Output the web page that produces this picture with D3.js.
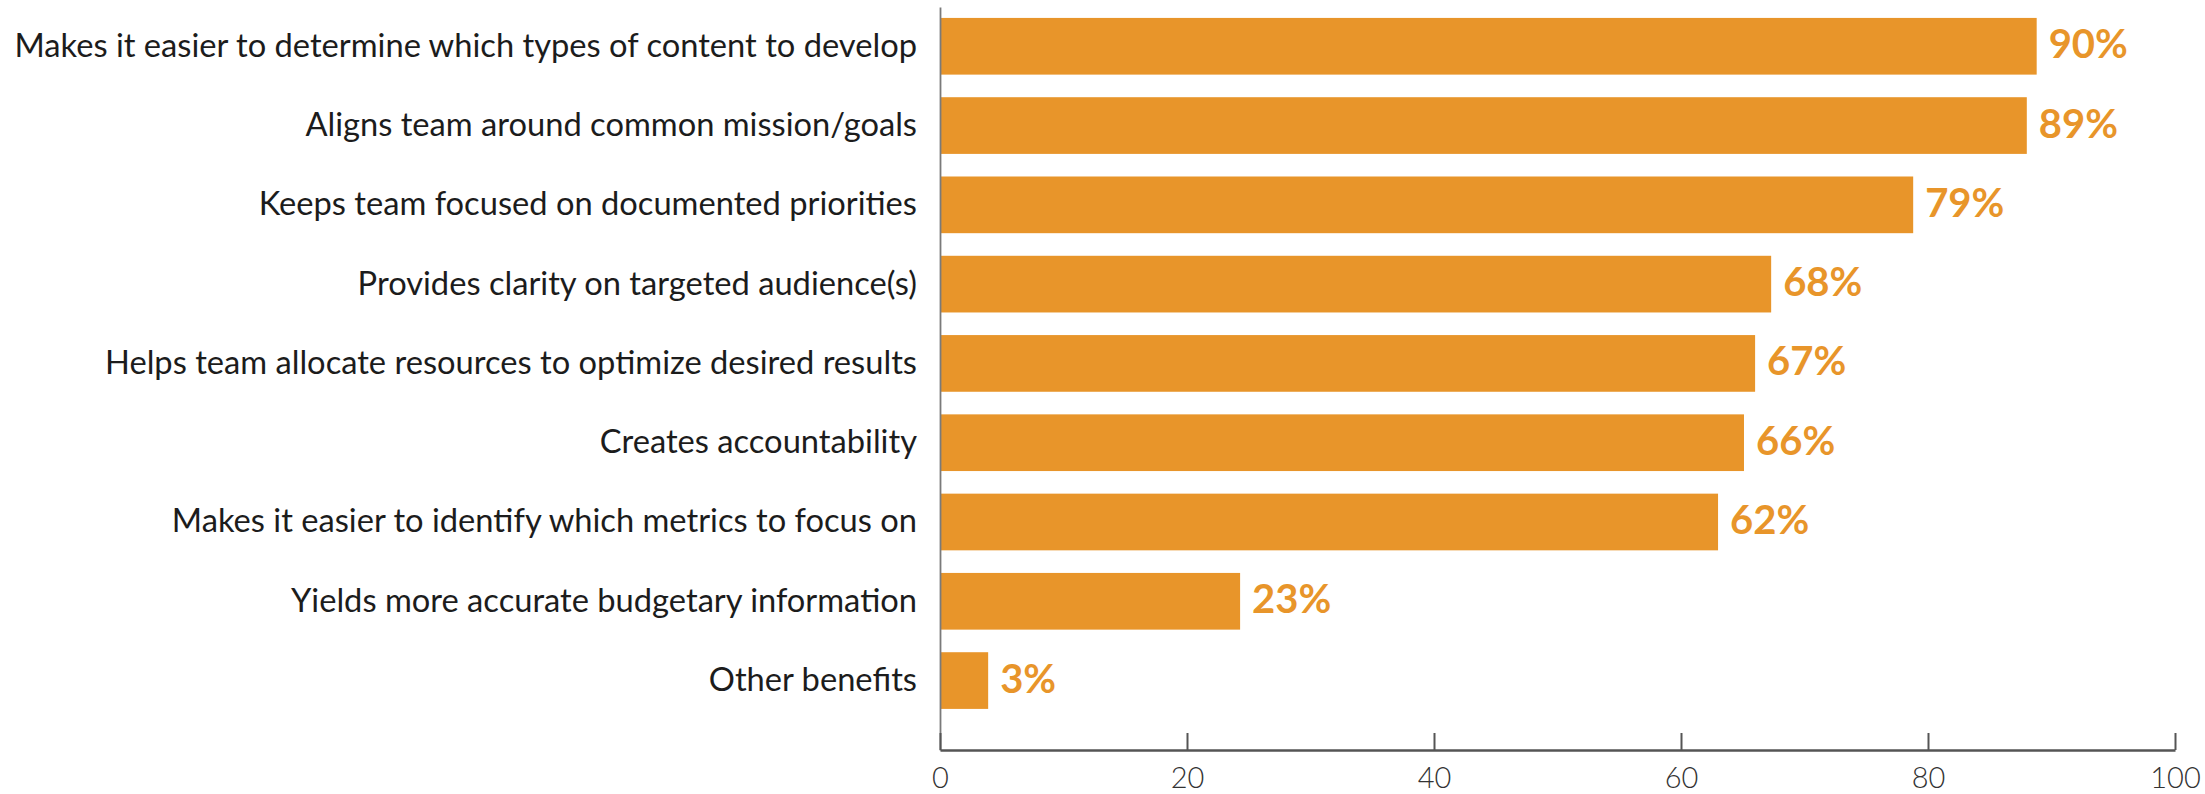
<!DOCTYPE html>
<html>
<head>
<meta charset="utf-8">
<script src="https://cdn.jsdelivr.net/npm/d3@7"></script>
<style>
  body { margin: 0; background: #fff; }
  svg { display: block; }
</style>
</head>
<body>
<div id="chart"></div>
<script>
// benefits of a documented strategy
var categories = [
    "Makes it easier to determine which types of content to develop",
    "Aligns team around common mission/goals",
    "Keeps team focused on documented priorities",
    "Provides clarity on targeted audience(s)",
    "Helps team allocate resources to optimize desired results",
    "Creates accountability",
    "Makes it easier to identify which metrics to focus on",
    "Yields more accurate budgetary information",
    "Other benefits"
];
var values = [88.8, 88.0, 78.8, 67.3, 66.0, 65.1, 63.0, 24.3, 3.9];
var valueLabels = ["90%", "89%", "79%", "68%", "67%", "66%", "62%", "23%", "3%"];
var xTicks = [0, 20, 40, 60, 80, 100];

var width = 2205, height = 794;
var orange = "#e8952a";

var svg = d3.select("#chart")
    .append("svg")
    .attr("width", width)
    .attr("height", height);

// X axis
var x = d3.scaleLinear()
    .domain([0, 100])
    .range([940, 2175]);

// Y axis (bands)
var y = d3.scaleBand()
    .domain(categories)
    .range([7, 750])
    .paddingInner(0.285)
    .paddingOuter(0.328)
    .align(0.21);

// bars
svg.selectAll("rect.bar")
    .data(values)
    .enter().append("rect")
    .attr("class", "bar")
    .attr("x", x(0))
    .attr("y", function(d, i) { return y(categories[i]); })
    .attr("width", function(d) { return x(d) - x(0); })
    .attr("height", y.bandwidth())
    .attr("fill", orange);

// value labels
svg.selectAll("text.val")
    .data(values)
    .enter().append("text")
    .attr("class", "val")
    .attr("x", function(d) { return x(d) + 12; })
    .attr("y", function(d, i) { return y(categories[i]) + y.bandwidth() / 2; })
    .attr("dy", "0.3em")
    .attr("font-family", "Lato, 'Open Sans', sans-serif")
    .attr("font-weight", 700)
    .attr("font-size", 40)
    .attr("fill", orange)
    .text(function(d, i) { return valueLabels[i]; });

// left axis with category labels
var yAxis = svg.append("g")
    .attr("transform", "translate(" + x(0) + ",0)")
    .call(d3.axisLeft(y).tickSize(0).tickPadding(23).tickSizeOuter(0));

yAxis.select(".domain").attr("stroke", "#7a7a7a").attr("stroke-width", 1.8);
yAxis.selectAll("text")
    .attr("font-family", "Lato, 'Open Sans', sans-serif")
    .attr("font-size", 36)
    .attr("fill", "#1c1c1c");

// shrink/grow the label font so the longest label fits where it sits in the picture
var longest = d3.max(yAxis.selectAll("text").nodes(), function(n) { return n.getComputedTextLength(); });
yAxis.selectAll("text").attr("font-size", 36 * 903 / longest);

// bottom axis
var xAxis = svg.append("g")
    .attr("transform", "translate(0,750)")
    .call(d3.axisBottom(x).tickValues(xTicks).tickSizeInner(-17).tickSizeOuter(0).tickPadding(17));

xAxis.select(".domain").attr("stroke", "#555").attr("stroke-width", 2.5);
xAxis.selectAll(".tick line").attr("stroke", "#555").attr("stroke-width", 2);
xAxis.selectAll("text")
    .attr("font-family", "Lato, 'Open Sans', sans-serif")
    .attr("font-weight", 300)
    .attr("font-size", 29)
    .attr("fill", "#333");
</script>
</body>
</html>
